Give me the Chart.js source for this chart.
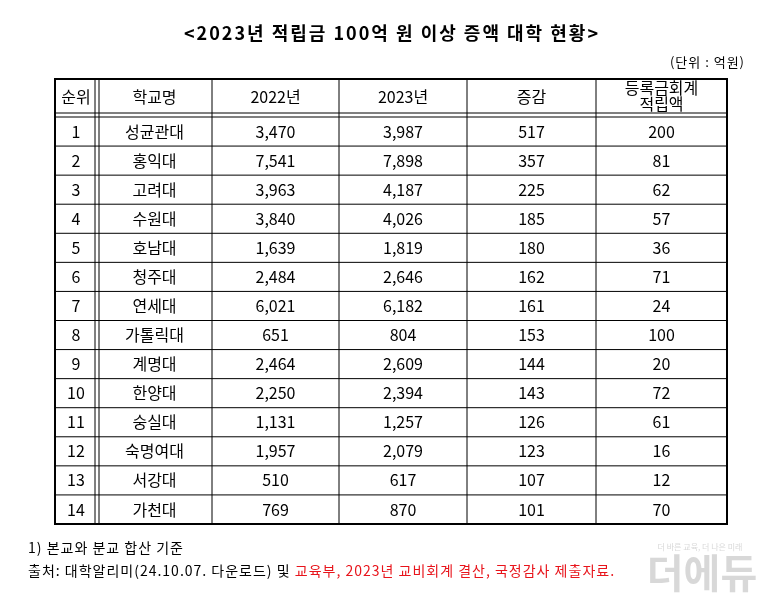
<!DOCTYPE html>
<html><head><meta charset="utf-8">
<script src="https://cdn.jsdelivr.net/npm/chart.js"></script>
<style>html,body{margin:0;padding:0;background:#fff}#c{display:block}</style>
</head><body>
<div style="width:780px;height:599px"><canvas id="c"></canvas></div>
<script>
const headers = ['순위','학교명','2022년','2023년','증감','등록금회계\n적립액'];
const ranks = [1,2,3,4,5,6,7,8,9,10,11,12,13,14];
const schools = ['성균관대','홍익대','고려대','수원대','호남대','청주대','연세대','가톨릭대','계명대','한양대','숭실대','숙명여대','서강대','가천대'];
const y2022 = [3470,7541,3963,3840,1639,2484,6021,651,2464,2250,1131,1957,510,769];
const y2023 = [3987,7898,4187,4026,1819,2646,6182,804,2609,2394,1257,2079,617,870];
const change = [517,357,225,185,180,162,161,153,144,143,126,123,107,101];
const reserve = [200,81,62,57,36,71,24,100,20,72,61,16,12,70];
const title = '<2023년 적립금 100억 원 이상 증액 대학 현황>';
const unit = '(단위 : 억원)';
const note1 = '1) 본교와 분교 합산 기준';
const srcBlack = '출처: 대학알리미(24.10.07. 다운로드) 및 ';
const srcRed = '교육부, 2023년 교비회계 결산, 국정감사 제출자료.';

const colEdges = [0,42,157,284,412,541,672];
const headH = 36, rowH = (445-38)/14;
const F = '"Noto Sans CJK KR", sans-serif';
const fmt = v => v.toLocaleString('en-US');

const tablePlugin = {
  id:'table',
  afterDraw(chart){
    const ctx = chart.ctx, xs = chart.scales.x, ys = chart.scales.y;
    const X = v => xs.getPixelForValue(v), Y = v => ys.getPixelForValue(v);
    ctx.save();
    ctx.fillStyle='#000'; ctx.textAlign='center'; ctx.textBaseline='middle';
    ctx.letterSpacing='2px';
    ctx.font='bold 18px '+F; ctx.fillText(title,392,33);
    ctx.letterSpacing='1px';
    ctx.font='13px '+F; ctx.textAlign='right'; ctx.fillText(unit,745,62);
    ctx.font='14px '+F;
    ctx.textAlign='left'; ctx.fillText(note1,28,548);
    ctx.fillText(srcBlack,28,571);
    const w = ctx.measureText(srcBlack).width;
    ctx.fillStyle='#e8141b'; ctx.fillText(srcRed,28+w,571);
    ctx.letterSpacing='0px';
    // watermark
    ctx.fillStyle='rgba(200,200,200,0.7)'; ctx.font='bold 40px '+F; ctx.textAlign='center';
    ctx.fillText('더에듀',702,573);
    ctx.font='8px '+F; ctx.fillText('더 바른 교육, 더 나은 미래',700,547);
    // grid
    ctx.strokeStyle='#000'; ctx.lineWidth=1;
    const line=(x1,y1,x2,y2,lw)=>{ctx.lineWidth=lw||1;ctx.beginPath();ctx.moveTo(x1,y1);ctx.lineTo(x2,y2);ctx.stroke();};
    const L=X(0),R=X(672),T=Y(0),B=Y(445);
    ctx.lineWidth=2; ctx.strokeRect(L,T,R-L,B-T);
    line(L,Y(34),R,Y(34)); line(L,Y(38),R,Y(38));
    for(let i=1;i<14;i++) line(L,Y(38+i*rowH),R,Y(38+i*rowH));
    line(X(40),T,X(40),B); line(X(44),T,X(44),B);
    for(let c=2;c<6;c++) line(X(colEdges[c]),T,X(colEdges[c]),B);
    // header
    ctx.fillStyle='#000'; ctx.font='16px '+F;
    for(let c=0;c<6;c++){
      const cx=X((colEdges[c]+colEdges[c+1])/2);
      const parts=headers[c].split('\n');
      if(parts.length===1) ctx.fillText(parts[0],cx,Y(18));
      else {ctx.fillText(parts[0],cx,Y(9));ctx.fillText(parts[1],cx,Y(25));}
    }
    const cols=[ranks.map(String),schools,y2022.map(fmt),y2023.map(fmt),change.map(fmt),reserve.map(fmt)];
    for(let r=0;r<14;r++){
      const cy=Y(38+(r+0.5)*rowH);
      for(let c=0;c<6;c++) ctx.fillText(cols[c][r],X((colEdges[c]+colEdges[c+1])/2),cy);
    }
    ctx.restore();
  }
};

new Chart(document.getElementById('c'),{
  type:'scatter',
  data:{datasets:[{data:[],pointRadius:0}]},
  options:{
    responsive:true,maintainAspectRatio:false,animation:false,
    layout:{padding:{left:55,right:53,top:79,bottom:75}},
    plugins:{legend:{display:false},tooltip:{enabled:false}},
    scales:{
      x:{type:'linear',min:0,max:672,display:false},
      y:{type:'linear',min:0,max:445,reverse:true,display:false}
    }
  },
  plugins:[tablePlugin]
});
</script>
</body></html>
